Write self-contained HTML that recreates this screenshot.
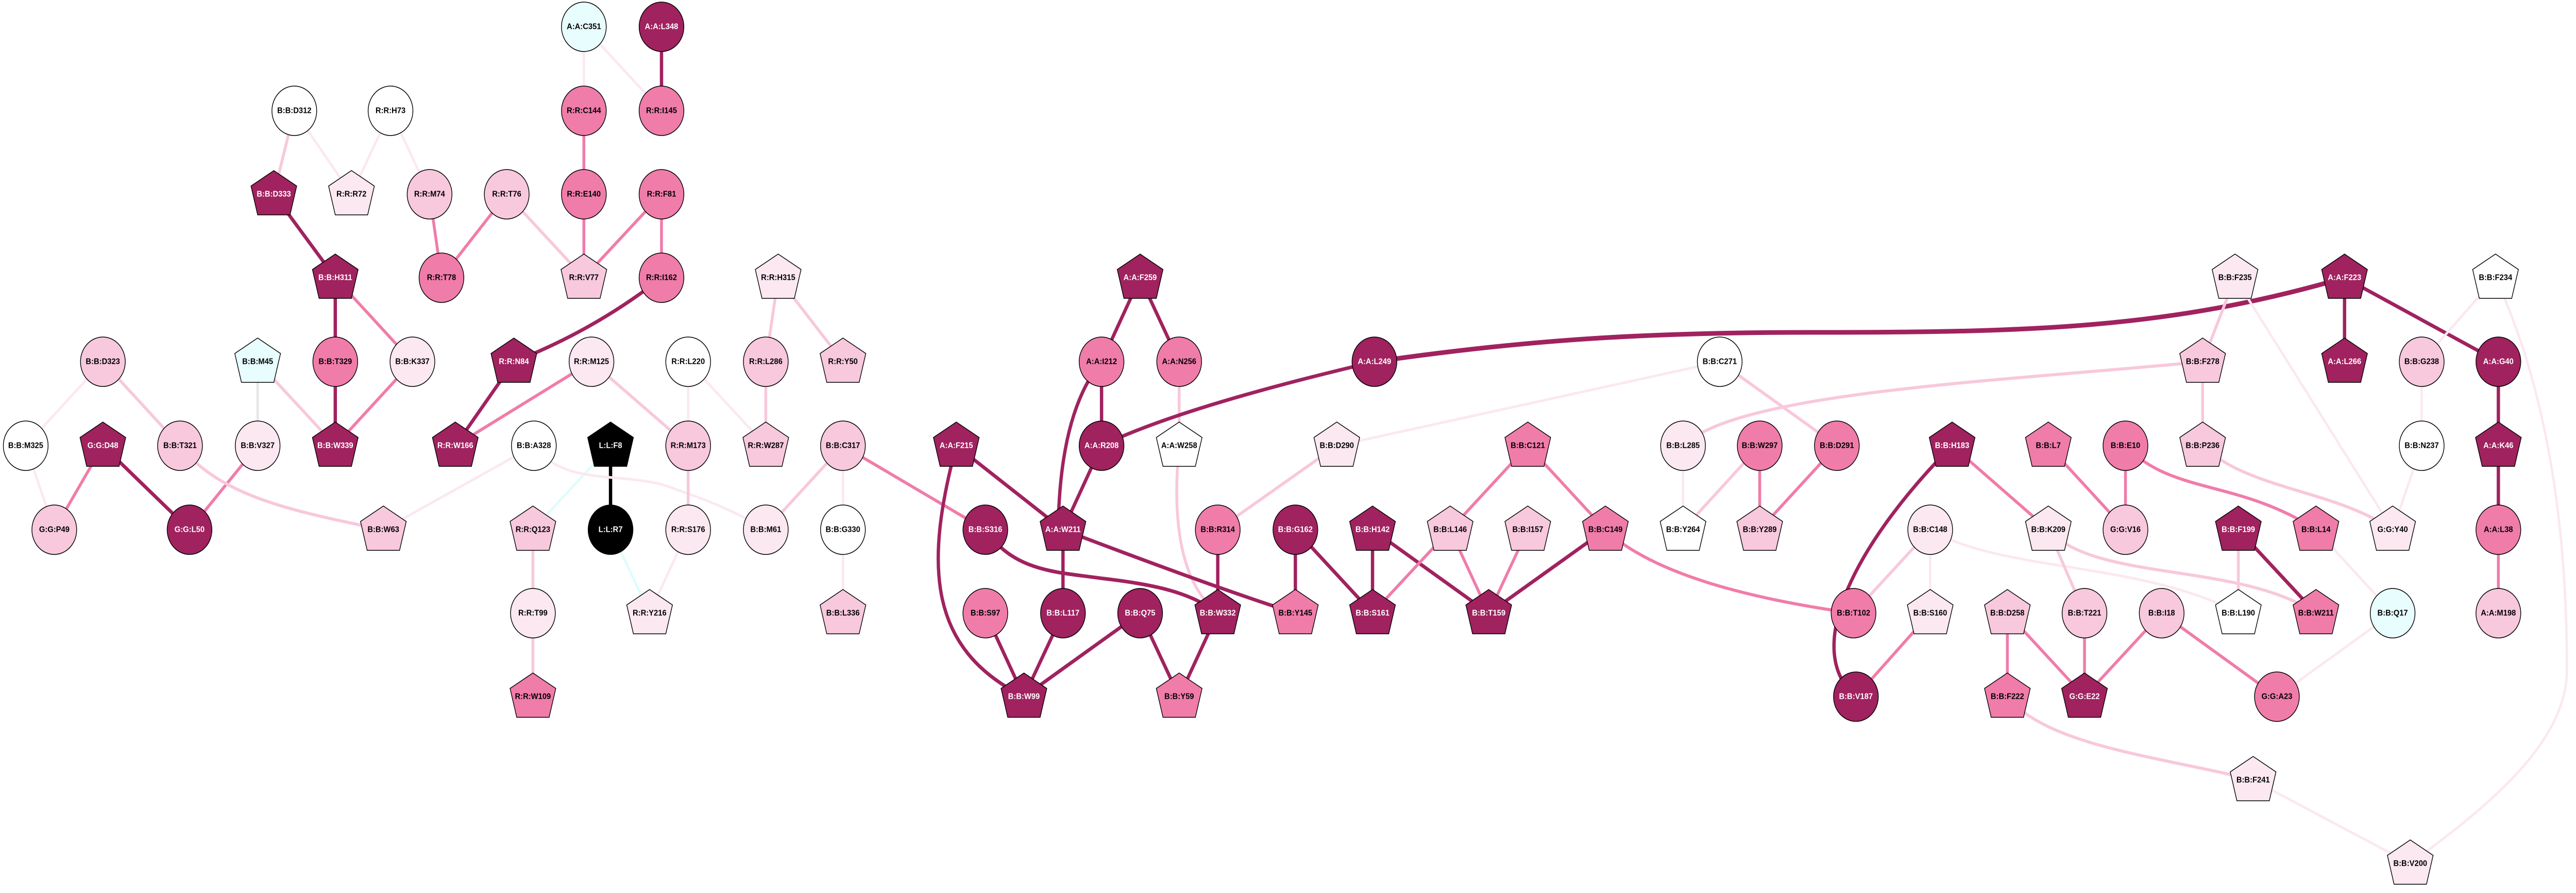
<!DOCTYPE html>
<html><head><meta charset="utf-8"><style>
html,body{margin:0;padding:0;background:#fff;width:100%;height:100%;overflow:hidden}
svg{display:block;width:100vw;height:100vh}
text{font-family:"Liberation Sans",sans-serif;font-weight:bold;font-size:16px;text-anchor:middle;dominant-baseline:central;fill:#000}
text.w{fill:#fff}
.n{stroke:#000;stroke-width:1.5}
path,line{fill:none;stroke-linecap:butt}
.ed{stroke:#a0225f;stroke-width:7}
.em{stroke:#f07ca9;stroke-width:6}
.el{stroke:#f8c8dc;stroke-width:6}
.ev{stroke:#fbe8f1;stroke-width:5}
.ec{stroke:#e0fcfc;stroke-width:5}
.eg{stroke:#e6e6e6;stroke-width:5}
.ek{stroke:#000;stroke-width:7}
</style></head><body>
<svg viewBox="0 0 5409 1733" preserveAspectRatio="none" xmlns="http://www.w3.org/2000/svg">
<defs>
<polygon id="pg" points="0,-46 48,-16 34,40 -34,40 -48,-16"/>
</defs>
<!-- EDGES -->
<line class="ev" x1="1226" y1="52" x2="1226" y2="215"/>
<line class="ev" x1="1226" y1="52" x2="1389" y2="215"/>
<line class="ed" x1="1389" y1="52" x2="1389" y2="215"/>
<line class="el" x1="618" y1="215" x2="575" y2="377"/>
<line class="ev" x1="618" y1="215" x2="738" y2="377"/>
<line class="ev" x1="820" y1="215" x2="738" y2="377"/>
<line class="ev" x1="820" y1="215" x2="902" y2="377"/>
<line class="em" x1="1226" y1="215" x2="1226" y2="377"/>
<line class="ed" x1="575" y1="377" x2="704" y2="539"/>
<line class="em" x1="902" y1="377" x2="927" y2="539"/>
<line class="em" x1="1064" y1="377" x2="927" y2="539"/>
<line class="el" x1="1064" y1="377" x2="1226" y2="539"/>
<line class="em" x1="1226" y1="377" x2="1226" y2="539"/>
<line class="em" x1="1389" y1="377" x2="1226" y2="539"/>
<line class="em" x1="1389" y1="377" x2="1389" y2="539"/>
<line class="ed" x1="704" y1="539" x2="704" y2="702"/>
<line class="em" x1="704" y1="539" x2="866" y2="702"/>
<path class="ed" d="M1389,539 Q1250,640 1079,702"/>
<line class="el" x1="1634" y1="539" x2="1608" y2="702"/>
<line class="el" x1="1634" y1="539" x2="1770" y2="702"/>
<line class="ev" x1="216" y1="702" x2="54" y2="865"/>
<line class="el" x1="216" y1="702" x2="378" y2="865"/>
<line class="eg" x1="541" y1="702" x2="541" y2="865"/>
<line class="el" x1="541" y1="702" x2="704" y2="865"/>
<line class="ed" x1="704" y1="702" x2="704" y2="865"/>
<line class="em" x1="866" y1="702" x2="704" y2="865"/>
<line class="ed" x1="1079" y1="702" x2="956" y2="865"/>
<line class="em" x1="1242" y1="702" x2="956" y2="865"/>
<line class="el" x1="1242" y1="702" x2="1445" y2="865"/>
<line class="ev" x1="1445" y1="702" x2="1445" y2="865"/>
<line class="ev" x1="1445" y1="702" x2="1608" y2="865"/>
<line class="el" x1="1608" y1="702" x2="1608" y2="865"/>
<line class="ev" x1="54" y1="865" x2="114" y2="1028"/>
<line class="em" x1="216" y1="865" x2="114" y2="1028"/>
<line class="ed" x1="216" y1="865" x2="398" y2="1028"/>
<line class="em" x1="541" y1="865" x2="398" y2="1028"/>
<path class="el" d="M378,865 C460,960 600,990 805,1028"/>
<line class="ev" x1="1121" y1="865" x2="805" y2="1028"/>
<line class="ec" x1="1282" y1="865" x2="1119" y2="1028"/>
<line class="ek" x1="1282" y1="865" x2="1282" y2="1028"/>
<path class="ev" d="M1121,865 C1190,950 1320,910 1420,950 C1500,975 1560,1000 1608,1028"/>
<line class="el" x1="1445" y1="865" x2="1445" y2="1028"/>
<line class="el" x1="1770" y1="865" x2="1608" y2="1028"/>
<line class="ev" x1="1770" y1="865" x2="1770" y2="1028"/>
<line class="el" x1="1119" y1="1028" x2="1119" y2="1190"/>
<line class="ec" x1="1282" y1="1028" x2="1364" y2="1190"/>
<line class="ev" x1="1445" y1="1028" x2="1364" y2="1190"/>
<line class="ev" x1="1770" y1="1028" x2="1770" y2="1190"/>
<line class="el" x1="1119" y1="1190" x2="1119" y2="1352"/>
<line class="ed" x1="2394" y1="539" x2="2313" y2="702"/>
<line class="ed" x1="2394" y1="539" x2="2476" y2="702"/>
<line class="ed" x1="2313" y1="702" x2="2313" y2="865"/>
<path class="ed" d="M2313,702 Q2225,800 2222,1028"/>
<line class="el" x1="2476" y1="702" x2="2476" y2="865"/>
<path class="ed" d="M2886,702 Q2480,790 2313,865"/>
<path class="ed" style="stroke-width:9" d="M2886,702 C3200,660 3450,645 3800,645 C4250,645 4550,640 4923,539"/>
<line class="ev" x1="3611" y1="702" x2="2807" y2="865"/>
<path class="el" d="M3534,865 C3650,760 4200,740 4625,702"/>
<line class="el" x1="3611" y1="702" x2="3857" y2="865"/>
<line class="em" x1="1770" y1="865" x2="2069" y2="1028"/>
<line class="ed" x1="2008" y1="865" x2="2232" y2="1028"/>
<path class="ed" d="M2008,865 C1940,1100 1950,1260 2150,1352"/>
<line class="ed" x1="2313" y1="865" x2="2232" y2="1028"/>
<path class="el" d="M2476,865 Q2450,1110 2557,1190"/>
<line class="el" x1="2807" y1="865" x2="2557" y2="1028"/>
<line class="em" x1="3208" y1="865" x2="3045" y2="1028"/>
<line class="em" x1="3208" y1="865" x2="3371" y2="1028"/>
<line class="ev" x1="3534" y1="865" x2="3534" y2="1028"/>
<line class="el" x1="3695" y1="865" x2="3534" y2="1028"/>
<path class="ed" d="M2069,1028 C2130,1110 2220,1110 2310,1122 C2430,1135 2500,1150 2557,1190"/>
<line class="ed" x1="2232" y1="1028" x2="2232" y2="1190"/>
<path class="ed" d="M2232,1028 Q2550,1140 2720,1190"/>
<line class="ed" x1="2557" y1="1028" x2="2557" y2="1190"/>
<line class="ed" x1="2720" y1="1028" x2="2720" y2="1190"/>
<line class="ed" x1="2720" y1="1028" x2="2882" y2="1190"/>
<line class="ed" x1="2882" y1="1028" x2="2882" y2="1190"/>
<line class="ed" x1="2882" y1="1028" x2="3126" y2="1190"/>
<line class="em" x1="3045" y1="1028" x2="2882" y2="1190"/>
<line class="em" x1="3045" y1="1028" x2="3126" y2="1190"/>
<line class="em" x1="3208" y1="1028" x2="3126" y2="1190"/>
<line class="ed" x1="3371" y1="1028" x2="3126" y2="1190"/>
<path class="em" d="M3371,1028 Q3500,1140 3892,1190"/>
<line class="ed" x1="2069" y1="1190" x2="2150" y2="1352"/>
<line class="ed" x1="2232" y1="1190" x2="2150" y2="1352"/>
<line class="ed" x1="2394" y1="1190" x2="2150" y2="1352"/>
<line class="ed" x1="2394" y1="1190" x2="2476" y2="1352"/>
<line class="ed" x1="2557" y1="1190" x2="2476" y2="1352"/>
<line class="el" x1="4693" y1="539" x2="4625" y2="702"/>
<line class="ev" x1="4693" y1="539" x2="5024" y2="1028"/>
<line class="ed" x1="4923" y1="539" x2="4923" y2="702"/>
<line class="ed" x1="4923" y1="539" x2="5246" y2="702"/>
<line class="ev" x1="5240" y1="539" x2="5085" y2="702"/>
<path class="ev" d="M5240,539 C5370,800 5390,1100 5390,1300 C5390,1450 5200,1580 5061,1676"/>
<line class="el" x1="4625" y1="702" x2="4625" y2="865"/>
<line class="ev" x1="5085" y1="702" x2="5085" y2="865"/>
<line class="ed" x1="5246" y1="702" x2="5246" y2="865"/>
<line class="em" x1="3695" y1="865" x2="3695" y2="1028"/>
<line class="em" x1="3857" y1="865" x2="3695" y2="1028"/>
<path class="ed" d="M4099,865 C3900,1050 3780,1260 3897,1352"/>
<line class="em" x1="4099" y1="865" x2="4301" y2="1028"/>
<line class="em" x1="4301" y1="865" x2="4463" y2="1028"/>
<line class="em" x1="4463" y1="865" x2="4463" y2="1028"/>
<path class="em" d="M4463,865 C4560,960 4700,930 4863,1028"/>
<path class="el" d="M4625,865 C4720,950 4900,950 5024,1028"/>
<line class="ev" x1="5085" y1="865" x2="5024" y2="1028"/>
<line class="ed" x1="5246" y1="865" x2="5246" y2="1028"/>
<line class="el" x1="4053" y1="1028" x2="3892" y2="1190"/>
<line class="ev" x1="4053" y1="1028" x2="4053" y2="1190"/>
<path class="ev" d="M4053,1028 C4200,1110 4500,1090 4700,1190"/>
<line class="el" x1="4301" y1="1028" x2="4377" y2="1190"/>
<path class="el" d="M4301,1028 C4400,1130 4700,1090 4863,1190"/>
<line class="el" x1="4700" y1="1028" x2="4700" y2="1190"/>
<line class="ed" x1="4700" y1="1028" x2="4863" y2="1190"/>
<line class="ev" x1="4863" y1="1028" x2="5024" y2="1190"/>
<line class="em" x1="5246" y1="1028" x2="5246" y2="1190"/>
<line class="em" x1="4053" y1="1190" x2="3897" y2="1352"/>
<line class="em" x1="4215" y1="1190" x2="4215" y2="1352"/>
<line class="em" x1="4215" y1="1190" x2="4377" y2="1352"/>
<line class="em" x1="4377" y1="1190" x2="4377" y2="1352"/>
<line class="em" x1="4539" y1="1190" x2="4377" y2="1352"/>
<line class="em" x1="4539" y1="1190" x2="4781" y2="1352"/>
<line class="ev" x1="5024" y1="1190" x2="4781" y2="1352"/>
<path class="el" d="M4215,1352 C4300,1450 4550,1470 4731,1514"/>
<line class="ev" x1="4731" y1="1514" x2="5061" y2="1676"/>

<!-- NODES -->
<ellipse class="n" cx="1226" cy="52" rx="47" ry="48" fill="#e8fdfd"/><text x="1226" y="52">A:A:C351</text>
<ellipse class="n" cx="1389" cy="52" rx="47" ry="48" fill="#a0225f"/><text class="w" x="1389" y="52">A:A:L348</text>
<ellipse class="n" cx="618" cy="215" rx="47" ry="48" fill="#fff"/><text x="618" y="215">B:B:D312</text>
<ellipse class="n" cx="820" cy="215" rx="47" ry="48" fill="#fff"/><text x="820" y="215">R:R:H73</text>
<ellipse class="n" cx="1226" cy="215" rx="47" ry="48" fill="#f07ca9"/><text x="1226" y="215">R:R:C144</text>
<ellipse class="n" cx="1389" cy="215" rx="47" ry="48" fill="#f07ca9"/><text x="1389" y="215">R:R:I145</text>
<use href="#pg" class="n" x="575" y="377" fill="#a0225f"/><text class="w" x="575" y="377">B:B:D333</text>
<use href="#pg" class="n" x="738" y="377" fill="#fbe8f1"/><text x="738" y="377">R:R:R72</text>
<ellipse class="n" cx="902" cy="377" rx="47" ry="48" fill="#f8c8dc"/><text x="902" y="377">R:R:M74</text>
<ellipse class="n" cx="1064" cy="377" rx="47" ry="48" fill="#f8c8dc"/><text x="1064" y="377">R:R:T76</text>
<ellipse class="n" cx="1226" cy="377" rx="47" ry="48" fill="#f07ca9"/><text x="1226" y="377">R:R:E140</text>
<ellipse class="n" cx="1389" cy="377" rx="47" ry="48" fill="#f07ca9"/><text x="1389" y="377">R:R:F81</text>
<use href="#pg" class="n" x="704" y="539" fill="#a0225f"/><text class="w" x="704" y="539">B:B:H311</text>
<ellipse class="n" cx="927" cy="539" rx="47" ry="48" fill="#f07ca9"/><text x="927" y="539">R:R:T78</text>
<use href="#pg" class="n" x="1226" y="539" fill="#f8c8dc"/><text x="1226" y="539">R:R:V77</text>
<ellipse class="n" cx="1389" cy="539" rx="47" ry="48" fill="#f07ca9"/><text x="1389" y="539">R:R:I162</text>
<use href="#pg" class="n" x="1634" y="539" fill="#fbe8f1"/><text x="1634" y="539">R:R:H315</text>
<ellipse class="n" cx="216" cy="702" rx="47" ry="48" fill="#f8c8dc"/><text x="216" y="702">B:B:D323</text>
<use href="#pg" class="n" x="541" y="702" fill="#e8fdfd"/><text x="541" y="702">B:B:M45</text>
<ellipse class="n" cx="704" cy="702" rx="47" ry="48" fill="#f07ca9"/><text x="704" y="702">B:B:T329</text>
<ellipse class="n" cx="866" cy="702" rx="47" ry="48" fill="#fbe8f1"/><text x="866" y="702">B:B:K337</text>
<use href="#pg" class="n" x="1079" y="702" fill="#a0225f"/><text class="w" x="1079" y="702">R:R:N84</text>
<ellipse class="n" cx="1242" cy="702" rx="47" ry="48" fill="#fbe8f1"/><text x="1242" y="702">R:R:M125</text>
<ellipse class="n" cx="1445" cy="702" rx="47" ry="48" fill="#fff"/><text x="1445" y="702">R:R:L220</text>
<ellipse class="n" cx="1608" cy="702" rx="47" ry="48" fill="#f8c8dc"/><text x="1608" y="702">R:R:L286</text>
<use href="#pg" class="n" x="1770" y="702" fill="#f8c8dc"/><text x="1770" y="702">R:R:Y50</text>
<ellipse class="n" cx="54" cy="865" rx="47" ry="48" fill="#fff"/><text x="54" y="865">B:B:M325</text>
<use href="#pg" class="n" x="216" y="865" fill="#a0225f"/><text class="w" x="216" y="865">G:G:D48</text>
<ellipse class="n" cx="378" cy="865" rx="47" ry="48" fill="#f8c8dc"/><text x="378" y="865">B:B:T321</text>
<ellipse class="n" cx="541" cy="865" rx="47" ry="48" fill="#fbe8f1"/><text x="541" y="865">B:B:V327</text>
<use href="#pg" class="n" x="704" y="865" fill="#a0225f"/><text class="w" x="704" y="865">B:B:W339</text>
<use href="#pg" class="n" x="956" y="865" fill="#a0225f"/><text class="w" x="956" y="865">R:R:W166</text>
<ellipse class="n" cx="1121" cy="865" rx="47" ry="48" fill="#fff"/><text x="1121" y="865">B:B:A328</text>
<use href="#pg" class="n" x="1282" y="865" fill="#000"/><text class="w" x="1282" y="865">L:L:F8</text>
<ellipse class="n" cx="1445" cy="865" rx="47" ry="48" fill="#f8c8dc"/><text x="1445" y="865">R:R:M173</text>
<use href="#pg" class="n" x="1608" y="865" fill="#f8c8dc"/><text x="1608" y="865">R:R:W287</text>
<ellipse class="n" cx="1770" cy="865" rx="47" ry="48" fill="#f8c8dc"/><text x="1770" y="865">B:B:C317</text>
<ellipse class="n" cx="114" cy="1028" rx="47" ry="48" fill="#f8c8dc"/><text x="114" y="1028">G:G:P49</text>
<ellipse class="n" cx="398" cy="1028" rx="47" ry="48" fill="#a0225f"/><text class="w" x="398" y="1028">G:G:L50</text>
<use href="#pg" class="n" x="805" y="1028" fill="#f8c8dc"/><text x="805" y="1028">B:B:W63</text>
<use href="#pg" class="n" x="1119" y="1028" fill="#f8c8dc"/><text x="1119" y="1028">R:R:Q123</text>
<ellipse class="n" cx="1282" cy="1028" rx="47" ry="48" fill="#000"/><text class="w" x="1282" y="1028">L:L:R7</text>
<ellipse class="n" cx="1445" cy="1028" rx="47" ry="48" fill="#fbe8f1"/><text x="1445" y="1028">R:R:S176</text>
<ellipse class="n" cx="1608" cy="1028" rx="47" ry="48" fill="#fbe8f1"/><text x="1608" y="1028">B:B:M61</text>
<ellipse class="n" cx="1770" cy="1028" rx="47" ry="48" fill="#fff"/><text x="1770" y="1028">B:B:G330</text>
<ellipse class="n" cx="1119" cy="1190" rx="47" ry="48" fill="#fbe8f1"/><text x="1119" y="1190">R:R:T99</text>
<use href="#pg" class="n" x="1364" y="1190" fill="#fbe8f1"/><text x="1364" y="1190">R:R:Y216</text>
<use href="#pg" class="n" x="1770" y="1190" fill="#f8c8dc"/><text x="1770" y="1190">B:B:L336</text>
<use href="#pg" class="n" x="1119" y="1352" fill="#f07ca9"/><text x="1119" y="1352">R:R:W109</text>

<use href="#pg" class="n" x="2394" y="539" fill="#a0225f"/><text class="w" x="2394" y="539">A:A:F259</text>
<ellipse class="n" cx="2313" cy="702" rx="47" ry="48" fill="#f07ca9"/><text x="2313" y="702">A:A:I212</text>
<ellipse class="n" cx="2476" cy="702" rx="47" ry="48" fill="#f07ca9"/><text x="2476" y="702">A:A:N256</text>
<ellipse class="n" cx="2886" cy="702" rx="47" ry="48" fill="#a0225f"/><text class="w" x="2886" y="702">A:A:L249</text>
<ellipse class="n" cx="3611" cy="702" rx="47" ry="48" fill="#fff"/><text x="3611" y="702">B:B:C271</text>
<use href="#pg" class="n" x="2008" y="865" fill="#a0225f"/><text class="w" x="2008" y="865">A:A:F215</text>
<ellipse class="n" cx="2313" cy="865" rx="47" ry="48" fill="#a0225f"/><text class="w" x="2313" y="865">A:A:R208</text>
<use href="#pg" class="n" x="2476" y="865" fill="#fff"/><text x="2476" y="865">A:A:W258</text>
<use href="#pg" class="n" x="2807" y="865" fill="#fbe8f1"/><text x="2807" y="865">B:B:D290</text>
<use href="#pg" class="n" x="3208" y="865" fill="#f07ca9"/><text x="3208" y="865">B:B:C121</text>
<ellipse class="n" cx="3534" cy="865" rx="47" ry="48" fill="#fbe8f1"/><text x="3534" y="865">B:B:L285</text>
<ellipse class="n" cx="2069" cy="1028" rx="47" ry="48" fill="#a0225f"/><text class="w" x="2069" y="1028">B:B:S316</text>
<use href="#pg" class="n" x="2232" y="1028" fill="#a0225f"/><text class="w" x="2232" y="1028">A:A:W211</text>
<ellipse class="n" cx="2557" cy="1028" rx="47" ry="48" fill="#f07ca9"/><text x="2557" y="1028">B:B:R314</text>
<ellipse class="n" cx="2720" cy="1028" rx="47" ry="48" fill="#a0225f"/><text class="w" x="2720" y="1028">B:B:G162</text>
<use href="#pg" class="n" x="2882" y="1028" fill="#a0225f"/><text class="w" x="2882" y="1028">B:B:H142</text>
<use href="#pg" class="n" x="3045" y="1028" fill="#f8c8dc"/><text x="3045" y="1028">B:B:L146</text>
<use href="#pg" class="n" x="3208" y="1028" fill="#f8c8dc"/><text x="3208" y="1028">B:B:I157</text>
<use href="#pg" class="n" x="3371" y="1028" fill="#f07ca9"/><text x="3371" y="1028">B:B:C149</text>
<use href="#pg" class="n" x="3534" y="1028" fill="#fff"/><text x="3534" y="1028">B:B:Y264</text>
<ellipse class="n" cx="2069" cy="1190" rx="47" ry="48" fill="#f07ca9"/><text x="2069" y="1190">B:B:S97</text>
<ellipse class="n" cx="2232" cy="1190" rx="47" ry="48" fill="#a0225f"/><text class="w" x="2232" y="1190">B:B:L117</text>
<ellipse class="n" cx="2394" cy="1190" rx="47" ry="48" fill="#a0225f"/><text class="w" x="2394" y="1190">B:B:Q75</text>
<use href="#pg" class="n" x="2557" y="1190" fill="#a0225f"/><text class="w" x="2557" y="1190">B:B:W332</text>
<use href="#pg" class="n" x="2720" y="1190" fill="#f07ca9"/><text x="2720" y="1190">B:B:Y145</text>
<use href="#pg" class="n" x="2882" y="1190" fill="#a0225f"/><text class="w" x="2882" y="1190">B:B:S161</text>
<use href="#pg" class="n" x="3126" y="1190" fill="#a0225f"/><text class="w" x="3126" y="1190">B:B:T159</text>
<use href="#pg" class="n" x="2150" y="1352" fill="#a0225f"/><text class="w" x="2150" y="1352">B:B:W99</text>
<use href="#pg" class="n" x="2476" y="1352" fill="#f07ca9"/><text x="2476" y="1352">B:B:Y59</text>

<use href="#pg" class="n" x="4693" y="539" fill="#fbe8f1"/><text x="4693" y="539">B:B:F235</text>
<use href="#pg" class="n" x="4923" y="539" fill="#a0225f"/><text class="w" x="4923" y="539">A:A:F223</text>
<use href="#pg" class="n" x="5240" y="539" fill="#fff"/><text x="5240" y="539">B:B:F234</text>
<use href="#pg" class="n" x="4625" y="702" fill="#f8c8dc"/><text x="4625" y="702">B:B:F278</text>
<use href="#pg" class="n" x="4923" y="702" fill="#a0225f"/><text class="w" x="4923" y="702">A:A:L266</text>
<ellipse class="n" cx="5085" cy="702" rx="47" ry="48" fill="#f8c8dc"/><text x="5085" y="702">B:B:G238</text>
<ellipse class="n" cx="5246" cy="702" rx="47" ry="48" fill="#a0225f"/><text class="w" x="5246" y="702">A:A:G40</text>
<ellipse class="n" cx="3695" cy="865" rx="47" ry="48" fill="#f07ca9"/><text x="3695" y="865">B:B:W297</text>
<ellipse class="n" cx="3857" cy="865" rx="47" ry="48" fill="#f07ca9"/><text x="3857" y="865">B:B:D291</text>
<use href="#pg" class="n" x="4099" y="865" fill="#a0225f"/><text class="w" x="4099" y="865">B:B:H183</text>
<use href="#pg" class="n" x="4301" y="865" fill="#f07ca9"/><text x="4301" y="865">B:B:L7</text>
<ellipse class="n" cx="4463" cy="865" rx="47" ry="48" fill="#f07ca9"/><text x="4463" y="865">B:B:E10</text>
<use href="#pg" class="n" x="4625" y="865" fill="#f8c8dc"/><text x="4625" y="865">B:B:P236</text>
<ellipse class="n" cx="5085" cy="865" rx="47" ry="48" fill="#fff"/><text x="5085" y="865">B:B:N237</text>
<use href="#pg" class="n" x="5246" y="865" fill="#a0225f"/><text class="w" x="5246" y="865">A:A:K46</text>
<use href="#pg" class="n" x="3695" y="1028" fill="#f8c8dc"/><text x="3695" y="1028">B:B:Y289</text>
<ellipse class="n" cx="4053" cy="1028" rx="47" ry="48" fill="#fbe8f1"/><text x="4053" y="1028">B:B:C148</text>
<use href="#pg" class="n" x="4301" y="1028" fill="#fbe8f1"/><text x="4301" y="1028">B:B:K209</text>
<ellipse class="n" cx="4463" cy="1028" rx="47" ry="48" fill="#f8c8dc"/><text x="4463" y="1028">G:G:V16</text>
<use href="#pg" class="n" x="4700" y="1028" fill="#a0225f"/><text class="w" x="4700" y="1028">B:B:F199</text>
<use href="#pg" class="n" x="4863" y="1028" fill="#f07ca9"/><text x="4863" y="1028">B:B:L14</text>
<use href="#pg" class="n" x="5024" y="1028" fill="#fbe8f1"/><text x="5024" y="1028">G:G:Y40</text>
<ellipse class="n" cx="5246" cy="1028" rx="47" ry="48" fill="#f07ca9"/><text x="5246" y="1028">A:A:L38</text>
<ellipse class="n" cx="3892" cy="1190" rx="47" ry="48" fill="#f07ca9"/><text x="3892" y="1190">B:B:T102</text>
<use href="#pg" class="n" x="4053" y="1190" fill="#fbe8f1"/><text x="4053" y="1190">B:B:S160</text>
<use href="#pg" class="n" x="4215" y="1190" fill="#f8c8dc"/><text x="4215" y="1190">B:B:D258</text>
<ellipse class="n" cx="4377" cy="1190" rx="47" ry="48" fill="#f8c8dc"/><text x="4377" y="1190">B:B:T221</text>
<ellipse class="n" cx="4539" cy="1190" rx="47" ry="48" fill="#f8c8dc"/><text x="4539" y="1190">B:B:I18</text>
<use href="#pg" class="n" x="4700" y="1190" fill="#fff"/><text x="4700" y="1190">B:B:L190</text>
<use href="#pg" class="n" x="4863" y="1190" fill="#f07ca9"/><text x="4863" y="1190">B:B:W211</text>
<ellipse class="n" cx="5024" cy="1190" rx="47" ry="48" fill="#e8fdfd"/><text x="5024" y="1190">B:B:Q17</text>
<ellipse class="n" cx="5246" cy="1190" rx="47" ry="48" fill="#f8c8dc"/><text x="5246" y="1190">A:A:M198</text>
<ellipse class="n" cx="3897" cy="1352" rx="47" ry="48" fill="#a0225f"/><text class="w" x="3897" y="1352">B:B:V187</text>
<use href="#pg" class="n" x="4215" y="1352" fill="#f07ca9"/><text x="4215" y="1352">B:B:F222</text>
<use href="#pg" class="n" x="4377" y="1352" fill="#a0225f"/><text class="w" x="4377" y="1352">G:G:E22</text>
<ellipse class="n" cx="4781" cy="1352" rx="47" ry="48" fill="#f07ca9"/><text x="4781" y="1352">G:G:A23</text>
<use href="#pg" class="n" x="4731" y="1514" fill="#fbe8f1"/><text x="4731" y="1514">B:B:F241</text>
<use href="#pg" class="n" x="5061" y="1676" fill="#fbe8f1"/><text x="5061" y="1676">B:B:V200</text>
</svg>
</body></html>
